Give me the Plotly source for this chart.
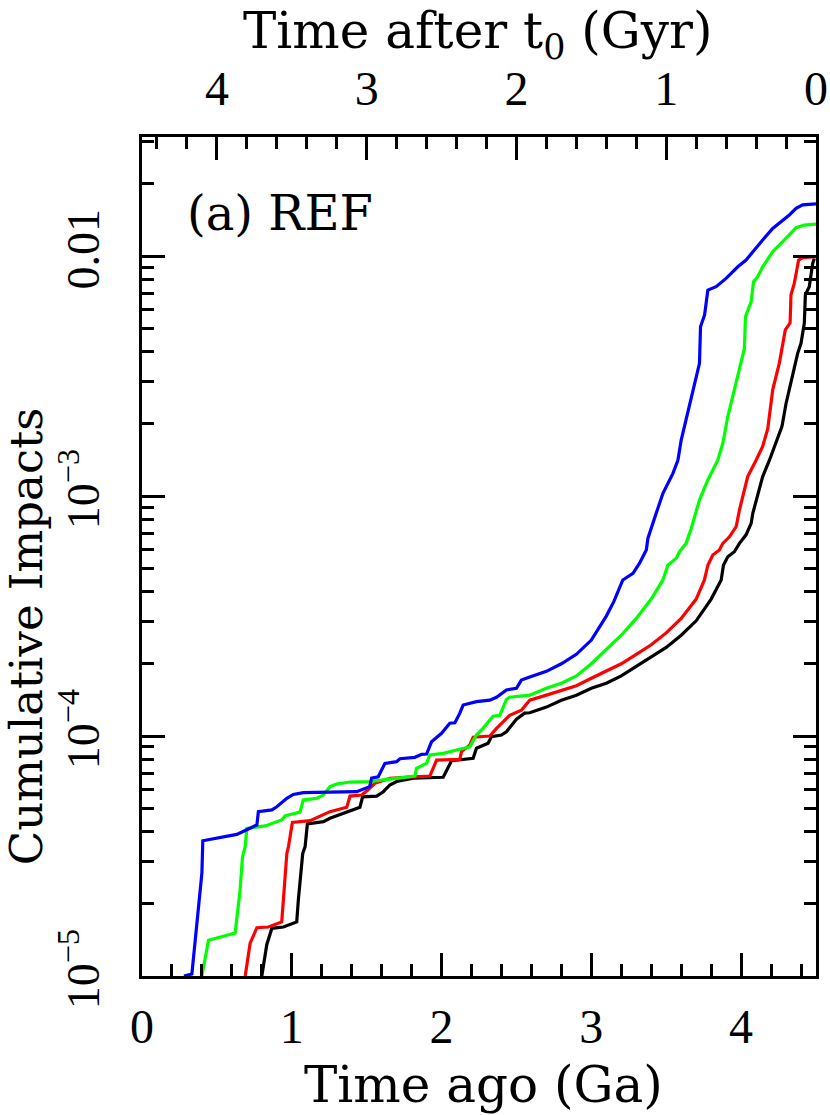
import plotly.graph_objects as go

# Time ago (Ga) and cumulative impacts
blue_x = [0.28, 0.333, 0.40, 0.406, 0.633, 0.767, 0.777, 0.867, 0.90, 0.967, 1.01, 1.077, 1.433, 1.477, 1.52, 1.533,
          1.577, 1.622, 1.70, 1.722, 1.822, 1.867, 1.90, 1.933, 2.0, 2.055, 2.089, 2.122, 2.144, 2.233, 2.322, 2.367,
          2.433, 2.5, 2.533, 2.589, 2.7, 2.8, 2.9, 3.0, 3.05, 3.1, 3.15, 3.21, 3.278, 3.322, 3.367, 3.378, 3.433,
          3.478, 3.544, 3.578, 3.60, 3.655, 3.689, 3.722, 3.729, 3.756, 3.778, 3.833, 3.9, 3.978, 4.033, 4.078,
          4.144, 4.211, 4.322, 4.367, 4.411, 4.5]
blue_y = [1.00e-5, 1.02e-5, 2.69e-5, 3.66e-5, 3.89e-5, 4.26e-5, 4.84e-5, 4.92e-5, 5.07e-5, 5.50e-5, 5.71e-5, 5.81e-5,
          5.86e-5, 6.00e-5, 6.15e-5, 6.67e-5, 6.76e-5, 7.69e-5, 7.82e-5, 8.04e-5, 8.15e-5, 8.39e-5, 8.41e-5, 9.46e-5,
          1.026e-4, 1.13e-4, 1.135e-4, 1.245e-4, 1.346e-4, 1.39e-4, 1.41e-4, 1.45e-4, 1.556e-4, 1.58e-4, 1.71e-4,
          1.76e-4, 1.86e-4, 2.0e-4, 2.19e-4, 2.51e-4, 2.82e-4, 3.16e-4, 3.63e-4, 4.47e-4, 4.76e-4, 5.25e-4, 5.96e-4,
          6.67e-4, 8.47e-4, 1.026e-3, 1.24e-3, 1.41e-3, 1.71e-3, 2.36e-3, 2.85e-3, 3.57e-3, 5.07e-3, 5.68e-3,
          7.21e-3, 7.45e-3, 8.07e-3, 9.02e-3, 9.62e-3, 1.042e-2, 1.167e-2, 1.303e-2, 1.483e-2, 1.58e-2, 1.633e-2,
          1.65e-2]

green_x = [0.40, 0.444, 0.622, 0.655, 0.671, 0.689, 0.70, 0.822, 0.933, 0.955, 1.055, 1.077, 1.167, 1.211, 1.255, 1.30,
           1.389, 1.522, 1.611, 1.70, 1.822, 1.833, 1.90, 1.922, 2.011, 2.122, 2.189, 2.233, 2.277, 2.344, 2.389,
           2.433, 2.455, 2.589, 2.7, 2.8, 2.9, 3.0, 3.1, 3.2, 3.3, 3.4, 3.478, 3.511, 3.567, 3.589, 3.633, 3.667,
           3.722, 3.778, 3.844, 3.878, 3.911, 3.955, 3.989, 4.022, 4.029, 4.067, 4.083, 4.111, 4.144, 4.211, 4.278,
           4.333, 4.367, 4.422, 4.5]
green_y = [1.00e-5, 1.41e-5, 1.51e-5, 2.28e-5, 3.14e-5, 3.46e-5, 4.12e-5, 4.22e-5, 4.47e-5, 4.65e-5, 4.82e-5, 5.41e-5,
           5.50e-5, 5.68e-5, 6.15e-5, 6.31e-5, 6.43e-5, 6.46e-5, 6.56e-5, 6.67e-5, 6.81e-5, 7.33e-5, 7.69e-5,
           8.34e-5, 8.47e-5, 8.81e-5, 9.02e-5, 1.009e-4, 1.076e-4, 1.21e-4, 1.22e-4, 1.42e-4, 1.45e-4, 1.48e-4,
           1.58e-4, 1.66e-4, 1.78e-4, 2.0e-4, 2.29e-4, 2.63e-4, 3.09e-4, 3.72e-4, 4.47e-4, 5.15e-4, 5.50e-4,
           5.86e-4, 6.35e-4, 7.33e-4, 9.62e-4, 1.167e-3, 1.41e-3, 1.66e-3, 2.14e-3, 2.77e-3, 3.46e-3, 4.12e-3,
           5.58e-3, 6.46e-3, 7.82e-3, 8.20e-3, 9.02e-3, 1.042e-2, 1.148e-2, 1.242e-2, 1.312e-2, 1.346e-2, 1.358e-2]

red_x = [0.689, 0.722, 0.767, 0.844, 0.933, 0.944, 0.967, 0.978, 1.004, 1.122, 1.211, 1.255, 1.367, 1.389, 1.467, 1.50,
         1.555, 1.655, 1.811, 1.922, 1.967, 2.122, 2.133, 2.189, 2.211, 2.322, 2.367, 2.455, 2.533, 2.589, 2.7, 2.8,
         2.9, 3.0, 3.1, 3.2, 3.3, 3.4, 3.5, 3.6, 3.7, 3.755, 3.778, 3.811, 3.855, 3.878, 3.922, 3.967, 3.989, 4.044,
         4.10, 4.144, 4.178, 4.211, 4.255, 4.295, 4.327, 4.333, 4.355, 4.384, 4.411, 4.5]
red_y = [1.00e-5, 1.37e-5, 1.59e-5, 1.60e-5, 1.68e-5, 2.08e-5, 3.24e-5, 3.46e-5, 4.36e-5, 4.44e-5, 4.69e-5, 4.84e-5,
         5.05e-5, 5.62e-5, 5.68e-5, 5.90e-5, 6.35e-5, 6.67e-5, 6.76e-5, 6.81e-5, 7.94e-5, 8.00e-5, 8.61e-5, 9.18e-5,
         9.89e-5, 1.0e-4, 1.076e-4, 1.22e-4, 1.28e-4, 1.41e-4, 1.48e-4, 1.55e-4, 1.62e-4, 1.74e-4, 1.86e-4, 2.0e-4,
         2.19e-4, 2.40e-4, 2.69e-4, 3.09e-4, 3.72e-4, 4.47e-4, 5.15e-4, 5.68e-4, 5.96e-4, 6.35e-4, 6.76e-4, 7.45e-4,
         8.75e-4, 1.205e-3, 1.41e-3, 1.61e-3, 1.91e-3, 2.77e-3, 3.57e-3, 4.92e-3, 5.27e-3, 6.89e-3, 7.69e-3,
         9.62e-3, 9.84e-3, 9.93e-3]

black_x = [0.80, 0.833, 0.867, 0.944, 1.033, 1.044, 1.073, 1.089, 1.104, 1.211, 1.255, 1.344, 1.455, 1.473, 1.567,
           1.611, 1.655, 1.70, 1.811, 2.011, 2.033, 2.067, 2.211, 2.233, 2.311, 2.333, 2.40, 2.433, 2.50, 2.555,
           2.589, 2.7, 2.8, 2.9, 3.0, 3.1, 3.2, 3.3, 3.4, 3.5, 3.6, 3.7, 3.8, 3.867, 3.882, 3.911, 3.955, 3.989,
           4.033, 4.067, 4.078, 4.144, 4.189, 4.233, 4.273, 4.30, 4.333, 4.378, 4.40, 4.422, 4.429, 4.455, 4.478,
           4.489]
black_y = [1.00e-5, 1.35e-5, 1.58e-5, 1.60e-5, 1.68e-5, 2.08e-5, 3.24e-5, 3.46e-5, 4.30e-5, 4.40e-5, 4.54e-5, 4.76e-5,
           5.05e-5, 5.58e-5, 5.62e-5, 5.86e-5, 6.25e-5, 6.46e-5, 6.67e-5, 6.73e-5, 7.21e-5, 7.89e-5, 8.07e-5,
           8.89e-5, 9.33e-5, 9.93e-5, 1.009e-4, 1.042e-4, 1.175e-4, 1.245e-4, 1.25e-4, 1.32e-4, 1.41e-4, 1.48e-4,
           1.58e-4, 1.66e-4, 1.78e-4, 1.95e-4, 2.14e-4, 2.34e-4, 2.63e-4, 3.02e-4, 3.72e-4, 4.47e-4, 5.15e-4,
           5.58e-4, 5.86e-4, 6.35e-4, 6.89e-4, 7.69e-4, 8.47e-4, 1.205e-3, 1.41e-3, 1.66e-3, 1.95e-3, 2.43e-3,
           2.95e-3, 3.94e-3, 4.33e-3, 5.25e-3, 6.89e-3, 7.45e-3, 9.33e-3, 9.77e-3]

x_ticks = [0, 1, 2, 3, 4]
top_ticks = [4, 3, 2, 1, 0]
y_ticks = [1e-5, 1e-4, 1e-3, 1e-2]
y_ticktext = ["10<sup>−5</sup>", "10<sup>−4</sup>", "10<sup>−3</sup>", "0.01"]
y_minor = [m * 10.0 ** e for e in (-5, -4, -3, -2) for m in range(2, 10)]

TFONT = "DejaVu Serif"
NFONT = "Liberation Sans Narrow, Liberation Serif"

fig = go.Figure()
for xs, ys, col in [(black_x, black_y, "#000000"), (red_x, red_y, "#ff0000"),
                    (green_x, green_y, "#00ff00"), (blue_x, blue_y, "#0000ff")]:
    fig.add_trace(go.Scatter(x=xs, y=ys, mode="lines", line=dict(color=col, width=3.2),
                             showlegend=False, hoverinfo="skip"))

# invisible trace to activate the top axis
fig.add_trace(go.Scatter(x=[4.5, 0], y=[1e-5, 1e-5], xaxis="x2", mode="markers",
                         marker=dict(opacity=0), showlegend=False, hoverinfo="skip"))

minor_common = dict(ticks="inside", ticklen=12, tickwidth=2.5, tickcolor="black", showgrid=False)

fig.update_layout(
    width=830, height=1115,
    margin=dict(l=142, r=14, t=137, b=139, autoexpand=False),
    paper_bgcolor="white", plot_bgcolor="white",
    font=dict(family=TFONT, color="black", size=44),
    xaxis=dict(range=[0, 4.5], tickvals=x_ticks, ticks="inside", ticklen=23, tickwidth=2.5,
               tickcolor="black", showline=True, linewidth=3, linecolor="black", mirror=True,
               showgrid=False, zeroline=False, ticklabelstandoff=6, automargin=False,
               tickfont=dict(family=NFONT, size=48),
               minor=dict(dtick=0.2, tick0=0, **minor_common)),
    xaxis2=dict(range=[4.5, 0], overlaying="x", side="top", tickvals=top_ticks, ticks="inside",
                ticklen=23, tickwidth=2.5, tickcolor="black", showline=True, linewidth=3,
                linecolor="black", showgrid=False, zeroline=False, ticklabelstandoff=10,
                automargin=False, tickfont=dict(family=NFONT, size=48),
                minor=dict(dtick=0.2, tick0=0, **minor_common)),
    yaxis=dict(type="log", range=[-5, -1.504], tickvals=y_ticks, ticktext=y_ticktext,
               tickangle=-90, ticks="inside", ticklen=23, tickwidth=2.5, tickcolor="black",
               showline=True, linewidth=3, linecolor="black", mirror="ticks", showgrid=False,
               zeroline=False, ticklabelstandoff=22, automargin=False,
               tickfont=dict(family=NFONT, size=46),
               minor=dict(tickvals=y_minor, **minor_common)),
    annotations=[
        dict(text="Time ago (Ga)", xref="paper", yref="paper", x=0.506, y=-0.13,
             showarrow=False, xanchor="center", yanchor="middle", font=dict(family=TFONT, size=50)),
        dict(text="Time after t<sub>0</sub> (Gyr)", xref="paper", yref="paper", x=0.498, y=1.122,
             showarrow=False, xanchor="center", yanchor="middle", font=dict(family=TFONT, size=50)),
        dict(text="Cumulative Impacts", xref="paper", yref="paper", x=-0.172, y=0.405,
             showarrow=False, xanchor="center", yanchor="middle", textangle=-90,
             font=dict(family=TFONT, size=45)),
        dict(text="(a) REF", xref="paper", yref="paper", x=0.205, y=0.909,
             showarrow=False, xanchor="center", yanchor="middle", font=dict(family=TFONT, size=48)),
    ],
)

fig.write_html("out.html", config={"displayModeBar": False},
               post_script="document.body.style.margin='0px';document.body.style.overflow='hidden';")
